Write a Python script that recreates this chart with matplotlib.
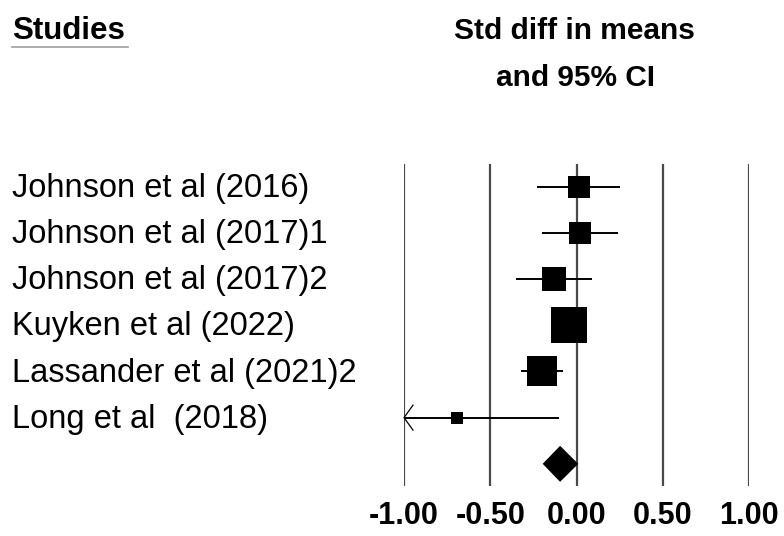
import numpy as np
import matplotlib.pyplot as plt
import matplotlib.transforms as mtransforms

plt.rcParams['font.family'] = ['Liberation Sans', 'DejaVu Sans']

studies = ["Johnson et al (2016)", "Johnson et al (2017)1", "Johnson et al (2017)2",
           "Kuyken et al (2022)", "Lassander et al (2021)2", "Long et al  (2018)"]
smd = [0.015, 0.019, -0.129, -0.042, -0.200, -0.695]
ci_low = [-0.228, -0.201, -0.349, -0.140, -0.320, -1.250]
ci_high = [0.255, 0.242, 0.087, 0.055, -0.080, -0.104]
weights = [11.8, 12.9, 14.1, 33.5, 23.5, 4.1]   # relative weight, %

pooled = -0.095
pooled_low = -0.196
pooled_high = 0.010

ticks = [-1.0, -0.5, 0.0, 0.5, 1.0]
xmin, xmax = -1.0, 1.0

W, H = 784, 536
fig = plt.figure(figsize=(W / 100, H / 100), dpi=100)
ax = fig.add_axes([404 / W, 50 / H, 345 / W, 322 / H])
ax.set_xlim(xmin, xmax)
ax.set_ylim(6.48, -0.49)
for s in ax.spines.values():
    s.set_visible(False)
ax.set_yticks([])

for t in ticks:
    ax.axvline(t, color='#4a4a4a', lw=1.6, zorder=1)

ax.set_xticks(ticks, [f"{t:.2f}" for t in ticks])
ax.tick_params(axis='x', length=0, pad=11, labelsize=22)
for lab in ax.get_xticklabels():
    lab.set_fontweight('bold')

# study rows: CI whisker + weighted square
px_per_pt = 100 / 72
for i in range(len(studies)):
    lo = max(ci_low[i], xmin)
    ax.plot([lo, ci_high[i]], [i, i], color='black', lw=1.4, zorder=2,
            solid_capstyle='butt')
    if ci_low[i] < xmin:
        ax.plot([xmin + 0.052, xmin, xmin + 0.052], [i - 0.27, i, i + 0.27],
                color='black', lw=0.9, zorder=2, clip_on=False)
    side = 6.39 * np.sqrt(weights[i]) / px_per_pt
    ax.plot(smd[i], i, marker='s', markersize=side, color='black',
            markeredgewidth=0, zorder=3)

# pooled estimate
yp = len(studies)
h = 0.39
ax.fill([pooled_low, pooled, pooled_high, pooled],
        [yp, yp - h, yp, yp + h], color='black', zorder=3, lw=0)

# study names
trans = mtransforms.blended_transform_factory(fig.transFigure, ax.transData)
for i, name in enumerate(studies):
    ax.text(12 / W, i + 0.22, name, transform=trans, fontsize=23.5,
            va='baseline', ha='left')

# headers
fig.text(12 / W, 1 - 39 / H, "Studies", fontsize=22.5, fontweight='bold',
         va='baseline', ha='left')
fig.add_artist(plt.Line2D([12 / W, 128 / W], [1 - 47 / H, 1 - 47 / H],
                          color='#a0a0a0', lw=1.2))
fig.text(574 / W, 1 - 39 / H, "Std diff in means", fontsize=21.5,
         fontweight='bold', va='baseline', ha='center')
fig.text(576 / W, 1 - 86 / H, "and 95% CI", fontsize=21.5,
         fontweight='bold', va='baseline', ha='center')

fig.savefig("out.png", dpi=100)
